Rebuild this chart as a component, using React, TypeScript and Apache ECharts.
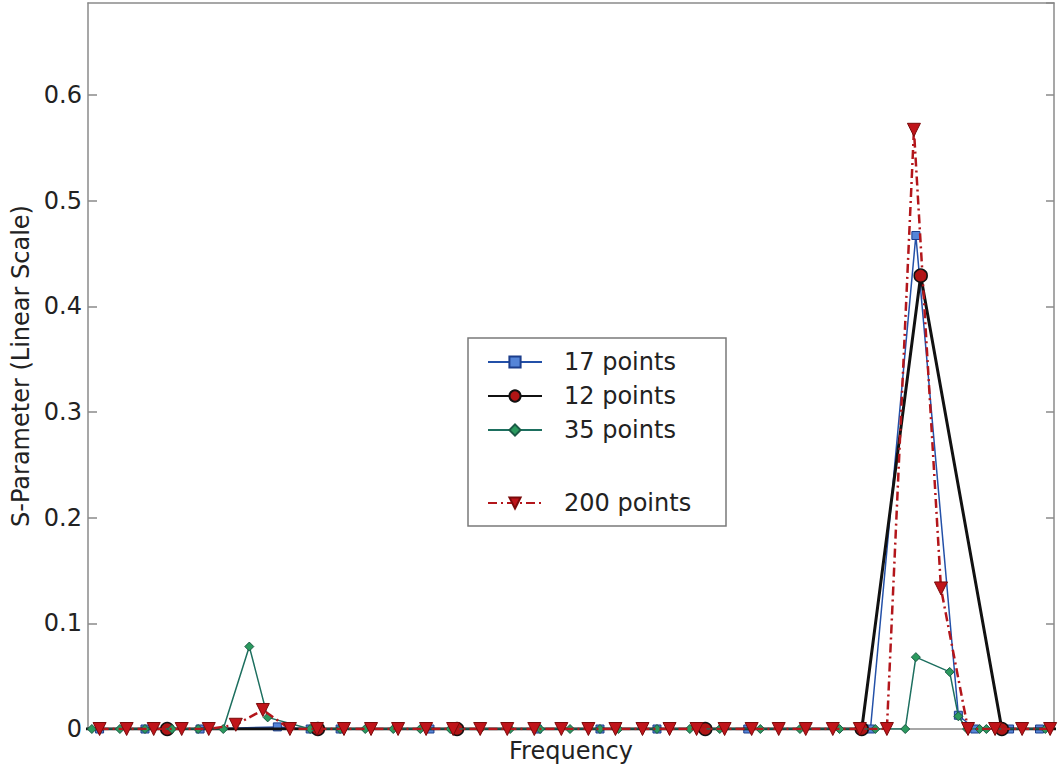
import React, { useEffect, useRef } from "react";
import * as echarts from "echarts";

// Axis ranges (frequency in arbitrary units; no x tick labels in the reference)
const xMin = 0;
const xMax = 1000;
const yMin = 0;
const yMax = 0.687;
const yInterval = 0.1;

// 17 points (blue squares)
const s17X = [12, 59, 116, 196, 230, 261, 354, 465, 530, 589, 683, 810, 857, 901, 918, 954, 985];
const s17Y = [0, 0, 0, 0.002, 0, 0, 0, 0, 0, 0, 0, 0, 0.467, 0.013, 0, 0, 0];

// 12 points (black line, red circles)
const s12X = [-60, 82, 238, 382, 639, 801, 862, 946, 1060];
const s12Y = [0, 0, 0, 0, 0, 0, 0.429, 0, 0];

// 35 points (green diamonds)
const s35X = [4, 33, 59, 87, 114, 140, 167, 186, 230, 261, 287, 316, 344, 375, 406, 437, 468, 499, 530, 549, 589, 623, 654, 696, 737, 778, 815, 846, 857, 892, 901, 910, 923, 930, 991];
const s35Y = [0, 0, 0, 0, 0, 0, 0.078, 0.011, 0, 0, 0, 0, 0, 0, 0, 0, 0, 0, 0, 0, 0, 0, 0, 0, 0, 0, 0, 0, 0.068, 0.054, 0.012, 0, 0, 0, 0];

// 200 points (red dash-dot, downward triangles)
const s200X = [12, 40, 68, 97, 125, 153, 181, 209, 237, 265, 293, 321, 350, 378, 406, 434, 462, 490, 518, 546, 574, 602, 630, 659, 687, 715, 743, 771, 799, 827, 855, 883, 911, 939, 967, 996];
const s200Y = [0, 0, 0, 0, 0, 0.004, 0.018, 0, 0, 0, 0, 0, 0, 0, 0, 0, 0, 0, 0, 0, 0, 0, 0, 0, 0, 0, 0, 0, 0, 0, 0.567, 0.133, 0, 0, 0, 0];

const seriesNames = ["17 points", "12 points", "35 points", "200 points"];

const FONT = "DejaVu Sans";
const TEXT = "#222";
const FRAME = "#8a8a8a";

const zip = (xs: number[], ys: number[]) => xs.map((x, i) => [x, ys[i]]);

export default function App() {
  const ref = useRef<HTMLDivElement>(null);
  useEffect(() => {
    const chart = echarts.init(ref.current!, null, { renderer: "svg" });
    const frameLine = { show: true, onZero: false, lineStyle: { color: FRAME, width: 1.5 } };
    chart.setOption({
      animation: false,
      backgroundColor: "#fff",
      grid: { left: 88, right: 4, top: 3, bottom: 42, containLabel: false },
      xAxis: [
        {
          type: "value",
          min: xMin,
          max: xMax,
          position: "bottom",
          axisLine: frameLine,
          axisTick: { show: false },
          axisLabel: { show: false },
          splitLine: { show: false },
          name: "Frequency",
          nameLocation: "middle",
          nameGap: 10,
          nameTextStyle: { fontSize: 24, color: TEXT, fontFamily: FONT, verticalAlign: "top" },
        },
        {
          type: "value",
          min: xMin,
          max: xMax,
          position: "top",
          axisLine: frameLine,
          axisTick: { show: false },
          axisLabel: { show: false },
          splitLine: { show: false },
        },
      ],
      yAxis: [
        {
          type: "value",
          min: yMin,
          max: yMax,
          interval: yInterval,
          position: "left",
          axisLine: frameLine,
          axisTick: { show: true, inside: true, length: 9, lineStyle: { color: FRAME, width: 1.5 } },
          axisLabel: { fontSize: 24, color: TEXT, fontFamily: FONT, margin: 6, showMaxLabel: false },
          splitLine: { show: false },
          name: "S-Parameter (Linear Scale)",
          nameLocation: "middle",
          nameGap: 52,
          nameTextStyle: { fontSize: 24, color: TEXT, fontFamily: FONT },
        },
        {
          type: "value",
          min: yMin,
          max: yMax,
          interval: yInterval,
          position: "right",
          axisLine: frameLine,
          axisTick: { show: true, inside: true, length: 8, lineStyle: { color: FRAME, width: 1.5 } },
          axisLabel: { show: false },
          splitLine: { show: false },
        },
      ],
      legend: [
        {
          data: seriesNames.slice(0, 3),
          orient: "vertical",
          left: 487,
          top: 350,
          itemWidth: 54,
          itemHeight: 14,
          itemGap: 10,
          padding: 0,
          selectedMode: false,
          z: 20,
          textStyle: { fontSize: 24, color: TEXT, fontFamily: FONT, padding: [0, 0, 0, 17] },
        },
        {
          data: seriesNames.slice(3),
          orient: "vertical",
          left: 487,
          top: 491,
          itemWidth: 54,
          itemHeight: 14,
          padding: 0,
          selectedMode: false,
          z: 20,
          textStyle: { fontSize: 24, color: TEXT, fontFamily: FONT, padding: [0, 0, 0, 17] },
        },
      ],
      graphic: [
        {
          type: "rect",
          z: 15,
          shape: { x: 468, y: 338, width: 258, height: 188 },
          style: { fill: "#fff", stroke: "#7a7a7a", lineWidth: 1.5 },
        },
      ],
      series: [
        {
          name: seriesNames[0],
          type: "line",
          data: zip(s17X, s17Y),
          symbol: "rect",
          symbolSize: 8,
          showAllSymbol: true,
          lineStyle: { color: "#2350a8", width: 1.5 },
          itemStyle: { color: "#5585d8", borderColor: "#1c3e8c", borderWidth: 1 },
          z: 2,
        },
        {
          name: seriesNames[1],
          type: "line",
          data: zip(s12X, s12Y),
          symbol: "circle",
          symbolSize: 13,
          showAllSymbol: true,
          lineStyle: { color: "#111", width: 3 },
          itemStyle: { color: "#b01515", borderColor: "#111", borderWidth: 1.5 },
          z: 3,
        },
        {
          name: seriesNames[2],
          type: "line",
          data: zip(s35X, s35Y),
          symbol: "diamond",
          symbolSize: 9,
          showAllSymbol: true,
          lineStyle: { color: "#1d6f5f", width: 1.5 },
          itemStyle: { color: "#2b9a5e", borderColor: "#1a5a45", borderWidth: 1 },
          z: 4,
        },
        {
          name: seriesNames[3],
          type: "line",
          data: zip(s200X, s200Y),
          symbol: "triangle",
          symbolRotate: 180,
          symbolSize: 13,
          showAllSymbol: true,
          lineStyle: { color: "#b3161b", width: 2.5, type: [9, 4, 2, 4] },
          itemStyle: { color: "#c0141a", borderColor: "#7a0a0a", borderWidth: 1 },
          z: 5,
        },
      ],
    });
    return () => chart.dispose();
  }, []);
  return (
    <div
      ref={ref}
      style={{ position: "fixed", left: 0, top: 0, width: 1058, height: 771, background: "#fff" }}
    />
  );
}
